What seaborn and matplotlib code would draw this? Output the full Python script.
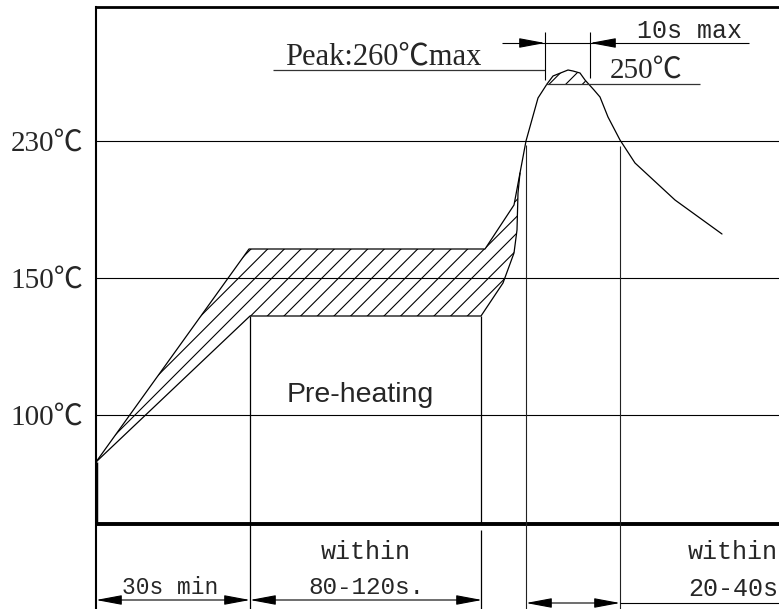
import numpy as np
import pandas as pd
import seaborn as sns
import matplotlib.pyplot as plt

# drawing units: x from the left axis, y from the time baseline (schematic, not to scale)
upper_x = [0, 153, 389, 418, 424, 430, 442, 451, 457, 472, 477, 484, 489, 498, 504, 512, 524, 539, 579, 626]
upper_y = [62, 275, 275, 319, 351, 383, 426, 440, 448, 454, 453, 451, 444, 434, 427, 407, 384, 361, 324, 290]
lower_x = [0, 154, 385, 407, 418, 421, 422, 424]
lower_y = [62, 208, 208, 241, 271, 294, 331, 351]
n_band = 5          # upper points that bound the hatched pre-heat band
peak_idx = [7, 8, 9, 10, 11, 12]   # upper points above the 250℃ line

tick_pos = [383, 246, 109]
tick_labels = ['230℃', '150℃', '100℃']

# zone boundaries: x, y_top
zone_x = [154, 385, 430, 524]
zone_top = [208, 208, 379, 378]

serif = ['Liberation Serif', 'Noto Sans CJK SC']
mono = ['Liberation Mono', 'Noto Sans CJK SC']

sns.set_style('white')
plt.rcParams['hatch.linewidth'] = 0.8

fig = plt.figure(figsize=(7.79, 6.09), dpi=100)
ax = fig.add_axes([96 / 779, 0, 683 / 779, 602 / 609])
ax.set_xlim(0, 683)
ax.set_ylim(-85, 517)

# hatched tolerance band
band_x = upper_x[:n_band] + lower_x[::-1]
band_y = upper_y[:n_band] + lower_y[::-1]
ax.fill(band_x, band_y, facecolor='none', edgecolor='black', lw=0, hatch='//')
pk_x = [upper_x[i] for i in peak_idx]
pk_y = [upper_y[i] for i in peak_idx]
ax.fill(pk_x + [491], pk_y + [440], facecolor='none', edgecolor='black', lw=0, hatch='//')

prof = pd.DataFrame({'x': upper_x, 'y': upper_y})
low = pd.DataFrame({'x': lower_x, 'y': lower_y})
sns.lineplot(data=prof, x='x', y='y', sort=False, estimator=None, color='black', lw=0.9, ax=ax)
sns.lineplot(data=low, x='x', y='y', sort=False, estimator=None, color='black', lw=0.9, ax=ax)
ax.vlines(0, 0, upper_y[0], color='black', lw=2.5)

# temperature grid
ax.set_yticks(tick_pos)
ax.set_yticklabels(tick_labels, family=serif, fontsize=21)
ax.set_xticks([])
ax.tick_params(axis='y', length=0, pad=9)
ax.yaxis.grid(True, color='black', lw=0.8)
ax.set_xlabel('')
ax.set_ylabel('')
ax.axhline(0, color='black', lw=2.8)

for s in ['right', 'bottom']:
    ax.spines[s].set_visible(False)
ax.spines['top'].set_linewidth(2)
ax.spines['top'].set_color('black')
ax.spines['left'].set_linewidth(1.5)
ax.spines['left'].set_color('black')

# zone lines
ax.vlines(zone_x[0], -85, zone_top[0], color='black', lw=0.9)
ax.vlines(zone_x[1], 0, zone_top[1], color='black', lw=0.9)
ax.vlines(zone_x[1], -85, -6, color='black', lw=0.9)
ax.vlines(zone_x[2], -85, zone_top[2], color='#222222', lw=0.8)
ax.vlines(zone_x[3], -85, zone_top[3], color='#222222', lw=0.8)

ax.text(191, 122, 'Pre-heating', family='Liberation Sans', fontsize=20.5, va='baseline')

# dimension arrows
arr = dict(arrowstyle='<|-|>,head_length=1.6,head_width=0.3', mutation_scale=10,
           shrinkA=0, shrinkB=0, color='black', lw=0.8)
one = dict(arrowstyle='-|>,head_length=1.6,head_width=0.3', mutation_scale=10,
           shrinkA=0, shrinkB=0, color='black', lw=0.8)
ax.annotate('', xy=(0, -76), xytext=(zone_x[0], -76), arrowprops=arr)
ax.annotate('', xy=(zone_x[0], -76), xytext=(zone_x[1] + 1, -76), arrowprops=arr)
ax.annotate('', xy=(zone_x[2], -79), xytext=(zone_x[3], -79), arrowprops=arr)
ax.hlines(-79, zone_x[3], 683, color='black', lw=0.8)

ax.text(74, -70, '30s min', family=mono, fontsize=16.5, ha='center', va='baseline')
ax.text(270, -35, 'within', family=mono, fontsize=18, ha='center', va='baseline')
ax.text(270, -70, '80-120s.', family=mono, fontsize=17.5, ha='center', va='baseline')
ax.text(592, -35, 'within', family=mono, fontsize=18, ha='left', va='baseline')
ax.text(592, -72, '20-40s', family=mono, fontsize=18, ha='left', va='baseline')

# peak annotations
ax.hlines(454, 177, 449, color='#333333', lw=0.9)
ax.text(189, 460, 'Peak:260℃max', family=serif, fontsize=22, va='baseline')
ax.hlines(440, 450, 604, color='#333333', lw=0.9)
ax.text(514, 446, '250℃', family=serif, fontsize=21, va='baseline')
ax.vlines(449, 444, 492, color='black', lw=0.8)
ax.vlines(494, 446, 492, color='black', lw=0.8)
ax.hlines(481, 406, 653, color='black', lw=0.8)
ax.annotate('', xy=(449, 481), xytext=(427, 481), arrowprops=one)
ax.annotate('', xy=(494, 481), xytext=(516, 481), arrowprops=one)
ax.text(541, 486, '10s max', family=mono, fontsize=18, va='baseline')

fig.savefig('out.png', dpi=100)
